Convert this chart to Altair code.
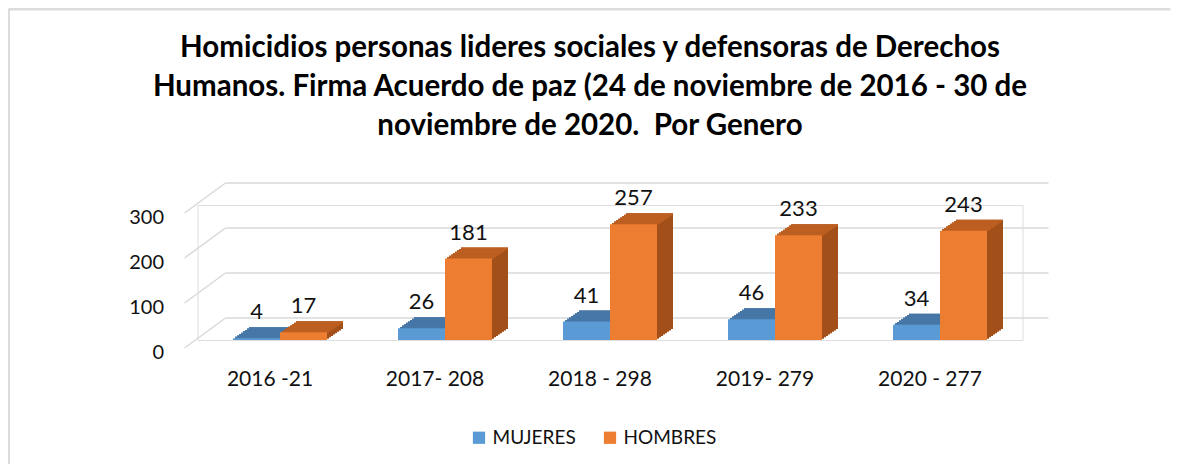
import altair as alt
import pandas as pd

years = ["2016 -21", "2017- 208", "2018 - 298", "2019- 279", "2020 - 277"]
mujeres = [4, 26, 41, 46, 34]
hombres = [17, 181, 257, 233, 243]
series = ["MUJERES", "HOMBRES"]
grid_vals = [0, 100, 200, 300]
title_lines = [
    "Homicidios personas lideres sociales y defensoras de Derechos",
    "Humanos. Firma Acuerdo de paz (24 de noviembre de 2016 - 30 de",
    "noviembre de 2020.\u00a0 Por Genero",
]

rows = []
for i, y in enumerate(years):
    rows.append({"year": y, "serie": "MUJERES", "v": mujeres[i]})
    rows.append({"year": y, "serie": "HOMBRES", "v": hombres[i]})
df = pd.DataFrame(rows)
gdf = pd.DataFrame({"g": grid_vals})
one = pd.DataFrame({"t": [0]})

W, H = 825, 135
BW = 47
DX, DY = 16.0, 11.0
N = 8
FONT = "Lato"

front_col = {"MUJERES": "#5b9bd5", "HOMBRES": "#ed7d31"}
side_col = {"MUJERES": "#3f6f9c", "HOMBRES": "#a34f1a"}
top_col = {"MUJERES": "#4677a7", "HOMBRES": "#bd5f20"}
xoff = {"MUJERES": -BW / 2, "HOMBRES": BW / 2}

xenc = alt.X("year:N", sort=years,
             scale=alt.Scale(paddingInner=0.43, paddingOuter=0.215),
             axis=alt.Axis(title=None, labelAngle=0, ticks=False, domain=False,
                           labelFontSize=21, labelFont=FONT, labelColor="#111",
                           labelPadding=28, labelOffset=-10))
yscale = alt.Scale(domain=[0, 300], nice=False, zero=True)
yaxis = alt.Axis(title=None, values=grid_vals, grid=False, ticks=False,
                 domain=False, labelFontSize=20, labelFont=FONT,
                 labelColor="#111", labelPadding=34, labelOffset=12)
yenc = alt.Y("v:Q", scale=yscale, axis=yaxis)

base = alt.Chart(df)

# chart frame
frame_top = alt.Chart(one).mark_rule(color="#dcdcdc", strokeWidth=3).encode(
    x=alt.value(-189), x2=alt.value(973), y=alt.value(-196))
frame_left = alt.Chart(one).mark_rule(color="#dcdcdc", strokeWidth=3).encode(
    x=alt.value(-189), y=alt.value(-196), y2=alt.value(259))

# title as text block
title = alt.Chart(one).mark_text(fontSize=29.5, font=FONT, fontWeight="bold", color="#000",
                                 align="center", baseline="top", lineHeight=39).encode(
    x=alt.value(392.5), y=alt.value(-171), text=alt.value(title_lines))

# gridlines (back wall + side wall diagonals)
grid_back = alt.Chart(gdf).mark_rule(color="#d9d9d9", strokeWidth=1.5, yOffset=-22).encode(
    y=alt.Y("g:Q", scale=yscale, axis=yaxis), x=alt.value(28), x2=alt.value(851))
grid_side = alt.Chart(gdf).mark_rule(color="#d9d9d9", strokeWidth=1.5, yOffset=8, y2Offset=-22).encode(
    y=alt.Y("g:Q", scale=yscale, axis=yaxis), y2=alt.Y2("g:Q"), x=alt.value(-13), x2=alt.value(28))

layers = [frame_top, frame_left, title, grid_back, grid_side]

for s in series:
    sub = base.transform_filter(alt.datum.serie == s)
    for k in range(N, 0, -1):
        layers.append(sub.mark_bar(width=BW, color=side_col[s],
                                   xOffset=xoff[s] + k * DX / N,
                                   yOffset=-k * DY / N, y2Offset=-k * DY / N).encode(
            x=xenc, y=yenc, y2=alt.datum(0)))
    for k in range(1, N + 1):
        layers.append(sub.mark_bar(width=BW, color=top_col[s],
                                   xOffset=xoff[s] + k * DX / N,
                                   yOffset=-k * DY / N, y2Offset=-k * DY / N + 1.8).encode(
            x=xenc, y=yenc, y2=alt.Y2("v:Q")))
    layers.append(sub.mark_bar(width=BW, xOffset=xoff[s]).encode(
        x=xenc, y=yenc, y2=alt.datum(0),
        color=alt.Color("serie:N", scale=alt.Scale(domain=series,
                                                     range=[front_col[x] for x in series]),
                        legend=alt.Legend(title=None, orient="none", direction="horizontal",
                                          legendX=272, legendY=223, symbolType="square",
                                          symbolSize=150, symbolStrokeWidth=0,
                                          labelFontSize=19, labelFont=FONT,
                                          labelColor="#111", columnPadding=24,
                                          labelOffset=4))))
    layers.append(sub.mark_text(fontSize=22, font=FONT, color="#111", baseline="bottom",
                                dy=-14, xOffset=xoff[s]).encode(
        x=xenc, y=yenc, text="v:Q"))

chart = alt.layer(*layers).properties(
    width=W, height=H,
    autosize=alt.AutoSizeParams(type="none"),
    padding={"left": 189.5, "top": 197, "right": 148.5, "bottom": 124},
).configure_view(stroke=None).configure(background="white")

chart.save("out.html", embed_options={"renderer": "svg", "actions": False})
